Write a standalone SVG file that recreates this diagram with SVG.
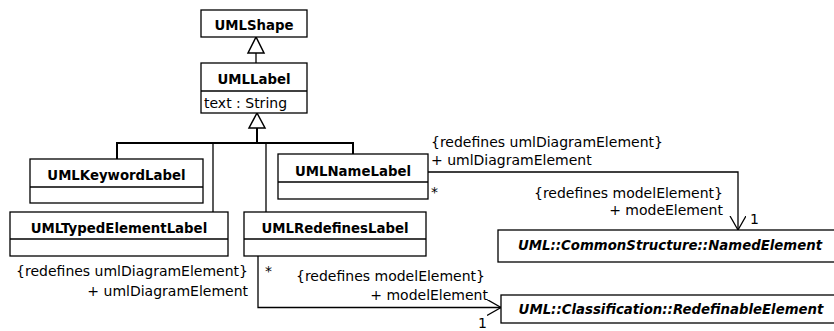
<svg xmlns="http://www.w3.org/2000/svg" width="834" height="331" viewBox="0 0 834 331">
<style>
.box{fill:#fff;stroke:#000;stroke-width:1.3}
.ln{fill:none;stroke:#000;stroke-width:1.3}
.bus{fill:none;stroke:#000;stroke-width:2}
.tri{fill:#fff;stroke:#000;stroke-width:1.5}
.cn{font-family:"DejaVu Sans",Verdana,sans-serif;font-size:13.3px;font-weight:bold;text-anchor:middle;fill:#000}
.ci{font-family:"DejaVu Sans",Verdana,sans-serif;font-size:13.3px;font-weight:bold;font-style:italic;text-anchor:middle;fill:#000}
.t{font-family:"DejaVu Sans",Verdana,sans-serif;font-size:14px;fill:#000}
.r{text-anchor:end}
</style>
<defs>
<marker id="open" markerWidth="16" markerHeight="18" refX="14" refY="8" orient="auto" markerUnits="userSpaceOnUse">
<path d="M0,0 L14,8 L0,16" fill="none" stroke="#000" stroke-width="1.3"/>
</marker>
</defs>
<g id="connectors">
<line class="ln" x1="256" y1="53" x2="256" y2="63"/>
<polygon class="tri" points="256,37 248,53 264,53"/>
<line class="bus" x1="257" y1="128" x2="257" y2="143"/>
<polygon class="tri" points="257,113 249,128 265,128"/>
<polyline class="bus" points="117,159 117,143 353,143 353,154"/>
<line class="ln" x1="213" y1="143" x2="213" y2="212"/>
<line class="ln" x1="266" y1="143" x2="266" y2="212"/>
<polyline class="ln" points="428,172 738,172 738,230" marker-end="url(#open)"/>
<polyline class="ln" points="258,256 258,307.5 501,307.5" marker-end="url(#open)"/>
<text class="t" x="431" y="147">{redefines umlDiagramElement}</text>
<text class="t" x="431" y="165">+ umlDiagramElement</text>
<text class="t" x="431" y="197">*</text>
<text class="t r" x="723" y="198">{redefines modelElement}</text>
<text class="t r" x="723" y="215">+ modeElement</text>
<text class="t" x="750" y="224">1</text>
<text class="t r" x="248" y="276">{redefines umlDiagramElement}</text>
<text class="t r" x="248" y="296">+ umlDiagramElement</text>
<text class="t" x="265" y="276">*</text>
<text class="t r" x="485" y="281">{redefines modelElement}</text>
<text class="t r" x="488" y="300">+ modelElement</text>
<text class="t" x="478" y="328">1</text>
</g>
<g id="UMLShape">
<rect class="box" x="201" y="10" width="106" height="27"/>
<text class="cn" x="254" y="30">UMLShape</text>
</g>
<g id="UMLLabel">
<rect class="box" x="201" y="63" width="106" height="50"/>
<line class="ln" x1="201" y1="91" x2="307" y2="91"/>
<text class="cn" x="254" y="84">UMLLabel</text>
<text class="t" x="204" y="108">text : String</text>
</g>
<g id="UMLKeywordLabel">
<rect class="box" x="30" y="159" width="173" height="44"/>
<line class="ln" x1="30" y1="187" x2="203" y2="187"/>
<text class="cn" x="116.5" y="180">UMLKeywordLabel</text>
</g>
<g id="UMLTypedElementLabel">
<rect class="box" x="10" y="212" width="218" height="44"/>
<line class="ln" x1="10" y1="239" x2="228" y2="239"/>
<text class="cn" x="119" y="233">UMLTypedElementLabel</text>
</g>
<g id="UMLNameLabel">
<rect class="box" x="278" y="154" width="150" height="45"/>
<line class="ln" x1="278" y1="182" x2="428" y2="182"/>
<text class="cn" x="353" y="176">UMLNameLabel</text>
</g>
<g id="UMLRedefinesLabel">
<rect class="box" x="244" y="212" width="182" height="44"/>
<line class="ln" x1="244" y1="239" x2="426" y2="239"/>
<text class="cn" x="335" y="233">UMLRedefinesLabel</text>
</g>
<g id="NamedElement">
<rect class="box" x="498" y="230" width="340" height="32"/>
<text class="ci" x="670" y="250">UML::CommonStructure::NamedElement</text>
</g>
<g id="RedefinableElement">
<rect class="box" x="501" y="295" width="340" height="28"/>
<text class="ci" x="671" y="314">UML::Classification::RedefinableElement</text>
</g>
</svg>
